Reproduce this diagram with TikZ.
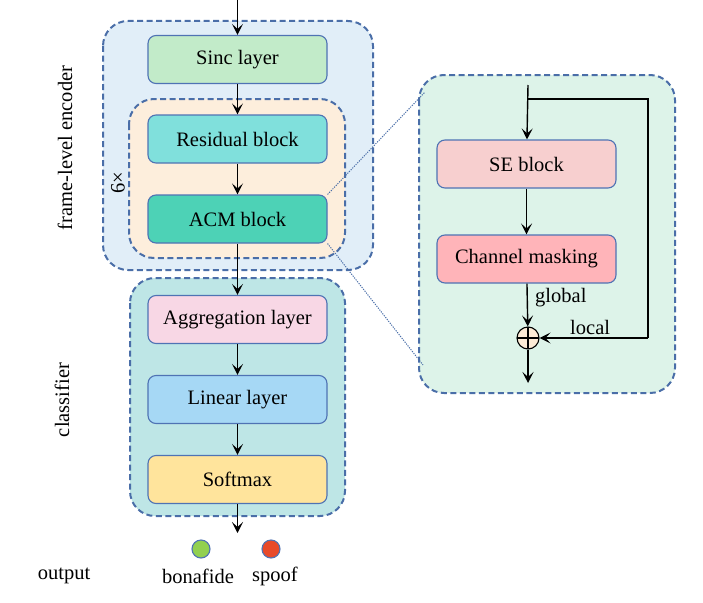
\documentclass[tikz,border=0pt]{standalone}
\usepackage{fontspec}
\setmainfont{Liberation Serif}
\usetikzlibrary{arrows.meta}
\definecolor{blkedge}{HTML}{4F73B4}
\definecolor{grpedge}{HTML}{4A6EA8}
\definecolor{encbg}{HTML}{E1EEF8}
\definecolor{repbg}{HTML}{FDEEDC}
\definecolor{sinccol}{HTML}{C2EBC9}
\definecolor{rescol}{HTML}{80E0DC}
\definecolor{acmcol}{HTML}{4DD2B6}
\definecolor{clsbg}{HTML}{BEE6E6}
\definecolor{aggcol}{HTML}{F8D7E5}
\definecolor{lincol}{HTML}{A6D8F5}
\definecolor{softcol}{HTML}{FFE49C}
\definecolor{acmbg}{HTML}{DDF3E9}
\definecolor{secol}{HTML}{F7CFCF}
\definecolor{cmcol}{HTML}{FFB4B9}
\definecolor{pluscol}{HTML}{FDEBD6}
\definecolor{greendot}{HTML}{92D050}
\definecolor{reddot}{HTML}{E84A2A}
\begin{document}
\begin{tikzpicture}[x=1pt,y=-1pt,
  font=\fontsize{20.5}{24}\selectfont,
  blk/.style={draw=blkedge, line width=1.1pt, rounded corners=8pt, minimum width=179pt, minimum height=48pt, inner sep=0pt},
  grp/.style={draw=grpedge, line width=2pt, dash pattern=on 6pt off 3.5pt, rounded corners=25pt},
  arr/.style={-{Stealth[length=11pt,width=11pt,inset=5pt]}, line width=1.4pt},
  plain/.style={line width=1.4pt},
  lbl/.style={inner sep=0pt},
  dot/.style={circle, draw=blkedge, line width=1.1pt, minimum size=18pt, inner sep=0pt},
  zoomline/.style={draw=grpedge, line width=1pt, dash pattern=on 1.2pt off 1.2pt}
]
\useasboundingbox (0,0) rectangle (703,602);

% containers
\draw[grp, fill=encbg] (103,21) rectangle (373,270);
\draw[grp, fill=repbg] (129,99) rectangle (345,258);
\draw[grp, fill=clsbg] (130,278) rectangle (345,516);
\draw[grp, fill=acmbg] (419,75) rectangle (675,393);

% left column blocks
\node[blk, fill=sinccol] (sinc) at (237.5,59.5) {Sinc layer};
\node[blk, fill=rescol] (res) at (237.5,139) {Residual block};
\node[blk, fill=acmcol] (acm) at (237.5,219) {ACM block};
\node[blk, fill=aggcol] (agg) at (237.5,319.5) {Aggregation layer};
\node[blk, fill=lincol] (lin) at (237.5,399.5) {Linear layer};
\node[blk, fill=softcol] (soft) at (237.5,479.5) {Softmax};

\coordinate (in) at (237.5,0);
\coordinate (out) at (237.5,533);

\draw[arr] (in) -- (sinc);
\draw[arr] (sinc) -- (res);
\draw[arr] (res) -- (acm);
\draw[arr] (acm) -- (agg);
\draw[arr] (agg) -- (lin);
\draw[arr] (lin) -- (soft);
\draw[arr] (soft) -- (out);

% side labels
\node[lbl, rotate=90] (enclbl) at (65,148) {frame-level encoder};
\node[lbl, rotate=90] (clslbl) at (62,400) {classifier};
\node[lbl, rotate=90] (rep) at (118,183) {6×};

% outputs
\node[dot, fill=greendot] (bona) at (201,549) {};
\node[dot, fill=reddot] (spoof) at (271,549) {};
\node[lbl] (bonalbl) at (198,576) {bonafide};
\node[lbl] (spooflbl) at (275,576) {spoof};
\node[lbl] (outlbl) at (64,576) {output};

% ACM detail
\node[blk, fill=secol] (se) at (526.5,164) {SE block};
\node[blk, fill=cmcol] (cm) at (526.5,259) {Channel masking};
\node[circle, draw=black, line width=1.1pt, fill=pluscol, minimum size=22pt, inner sep=0pt,
  path picture={\draw[line width=1.1pt] (path picture bounding box.north) -- (path picture bounding box.south)
                 (path picture bounding box.west) -- (path picture bounding box.east);}] (plus) at (528,338) {};

\coordinate (rin) at (528,85);
\coordinate (rtap) at (528,99);
\coordinate (rc1) at (648,99);
\coordinate (rc2) at (648,338);
\coordinate (rout) at (528,383);

\draw[arr] (rin) -- (se);
\draw[plain] (rtap) -- (rc1) -- (rc2);
\draw[arr] (rc2) -- (plus);
\draw[arr] (se) -- (cm);
\draw[arr] (cm) -- (plus);
\draw[arr] (plus) -- (rout);

\node[lbl, anchor=west] (glbl) at (535,298) {global};
\node[lbl, anchor=west] (llbl) at (570,327) {local};

% zoom lines
\coordinate (zt) at (425,92);
\coordinate (zb) at (423,365);
\draw[zoomline] (acm.north east) -- (zt);
\draw[zoomline] (acm.south east) -- (zb);
\end{tikzpicture}
\end{document}
